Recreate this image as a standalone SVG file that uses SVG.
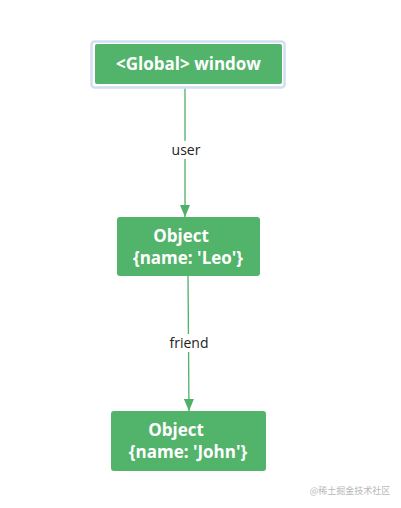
<svg xmlns="http://www.w3.org/2000/svg" width="401" height="508" viewBox="0 0 401 508">
<defs>
<marker id="arr" viewBox="0 0 12 10" refX="12" refY="5" markerWidth="12" markerHeight="10" markerUnits="userSpaceOnUse" orient="auto">
<path d="M0,0 L12,5 L0,10 Z" fill="#4DB166"/>
</marker>
</defs>
<style>
.box{fill:#52B36A;}
.t{font-family:"Open Sans","Noto Sans",sans-serif;font-weight:bold;fill:#fff;font-size:17px;text-anchor:middle;}
.lbl{font-family:"Open Sans","Noto Sans",sans-serif;font-size:14px;fill:#222;text-anchor:middle;}
.edge{stroke:#4DB166;stroke-width:1.3;fill:none;}
</style>
<rect width="401" height="508" fill="#fff"/>
<g id="connectors">
<line class="edge" x1="185" y1="85" x2="185" y2="217" marker-end="url(#arr)"/>
<rect x="168" y="141" width="34" height="18" fill="#fff"/>
<text class="lbl" x="186" y="155">user</text>
<line class="edge" x1="188" y1="276" x2="189" y2="411" marker-end="url(#arr)"/>
<rect x="165" y="334" width="48" height="18" fill="#fff"/>
<text class="lbl" x="189" y="348">friend</text>
</g>
<g id="global">
<rect x="91.5" y="41.5" width="193" height="46" rx="3" fill="#fff" stroke="#D3DEF4" stroke-width="2.5"/>
<rect class="box" x="95" y="44" width="187" height="40" rx="2"/>
<text class="t" x="188.5" y="70">&lt;Global&gt; window</text>
</g>
<g id="leo">
<rect class="box" x="117" y="217" width="143" height="59" rx="3"/>
<text class="t" x="181" y="242">Object</text>
<text class="t" x="188" y="264">{name: 'Leo'}</text>
</g>
<g id="john">
<rect class="box" x="111" y="411" width="155" height="60" rx="3"/>
<text class="t" x="176" y="436">Object</text>
<text class="t" x="188" y="458">{name: 'John'}</text>
</g>
<text x="350" y="494" font-family="'Noto Sans CJK SC',sans-serif" font-size="9" fill="#B8B8B8" text-anchor="middle">@稀土掘金技术社区</text>
</svg>
